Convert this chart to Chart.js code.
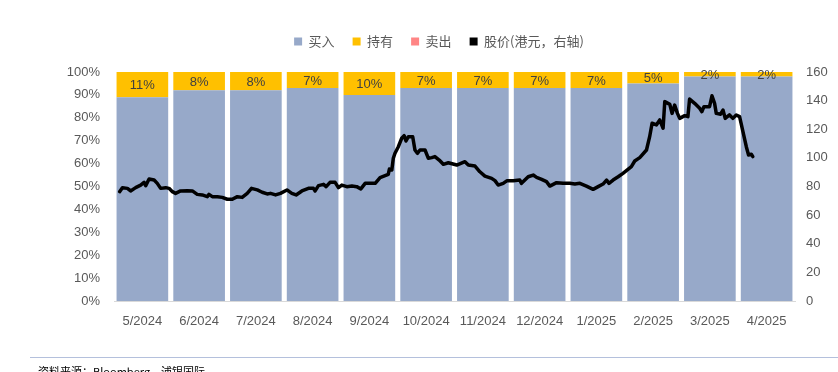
<!DOCTYPE html>
<html>
<head>
<meta charset="utf-8">
<script src="https://cdn.jsdelivr.net/npm/chart.js@4"></script>
<style>
  html, body { margin: 0; padding: 0; background: #fff; }
  #wrap { width: 838px; height: 372px; position: relative; }
</style>
</head>
<body>
<div id="wrap"><canvas id="chart"></canvas></div>
<script>
// monthly rating mix (%)
const months = ["5/2024", "6/2024", "7/2024", "8/2024", "9/2024", "10/2024", "11/2024", "12/2024", "1/2025", "2/2025", "3/2025", "4/2025"];
const buyPct  = [89, 92, 92, 93, 90, 93, 93, 93, 93, 95, 98, 98];
const holdPct = [11, 8, 8, 7, 10, 7, 7, 7, 7, 5, 2, 2];
const sellPct = [0, 0, 0, 0, 0, 0, 0, 0, 0, 0, 0, 0];

// share price (HKD), days since 2024-05-01
const priceDay = [3, 4.5, 7.2, 8.9, 11.6, 14.3, 16.1, 17, 18.8, 21.5, 23.2, 25, 27.7, 29.5, 31.3, 33, 35.7, 39.3, 42, 44.6,
  47.3, 50, 50.9, 52.7, 55.4, 58, 60.7, 63.4, 66.1, 68.7, 71.4, 73.7, 76.8, 79.4, 82.1, 83.9, 86.6, 89.2, 92.7, 95.3,
  97.6, 100.7, 104.2, 106.9, 107.8, 109.6, 112.3, 113.7, 115.8, 118.5, 120.3, 122.1, 124.8, 127.5, 130.1, 132.3, 134.6, 137.3, 140, 142.6,
  145.3, 147, 147.6, 148.9, 149.7, 150.6, 152.4, 154.2, 155.5, 156.5, 157.8, 160.1, 161.3, 162.6, 164, 166.7, 168.5, 170.3, 172, 174.3,
  176.5, 179.2, 183.7, 188.1, 189.9, 193.5, 196.1, 198.8, 202.4, 204.2, 205.9, 208.6, 210.7, 214, 217.5, 218.4, 222, 224.7, 226.5, 229.2,
  231.8, 233.6, 237.2, 240.7, 244.3, 247, 249.7, 253.2, 256.8, 259.5, 262.1, 264, 265.3, 267.5, 270.2, 272.8, 277.3, 279.1, 281.8, 285.4,
  287.1, 288.4, 290.7, 292.5, 294.3, 295.2, 297.9, 299.1, 300.5, 302, 303.2, 305.9, 307.6, 308.5, 311.2, 313.9, 315.1, 316.2, 319.2, 320.5,
  321.9, 322.8, 325.1, 326.4, 327.6, 329.9, 331.7, 333.5, 335.3, 337.1, 338.9, 340.1, 341.6, 342.4];
const price = [76.4, 79.2, 78.7, 76.9, 79.2, 81, 82.9, 80.6, 85.2, 84.5, 82.2, 78.7, 79.2, 78.7, 76.4, 75.2, 76.9, 77.1, 76.9, 74.5,
  74.1, 72.9, 74.5, 72.9, 72.9, 72.4, 71.1, 71.1, 72.9, 72.4, 75.2, 78.7, 77.6, 76, 74.8, 75.2, 74.1, 75.2, 77.6, 75.2,
  74.1, 76.9, 78.7, 78.7, 76.9, 80.6, 81.5, 79.9, 82.9, 82.9, 79.2, 81, 79.9, 80.3, 79.9, 78.3, 82.2, 82.2, 82.2, 86.2,
  87.6, 88.5, 92.2, 91.5, 99.7, 103.2, 107.8, 113.7, 115.5, 111.8, 114.8, 114.8, 105.5, 103.2, 105.5, 105.5, 99.7, 100.2, 100.9, 98.5,
  95.5, 96.6, 95, 97.3, 95, 94.3, 90.3, 87.3, 85.7, 84.1, 81, 82.2, 84.1, 84.1, 84.5, 82.2, 86.8, 88, 86.4, 85,
  83.4, 80.3, 82.7, 82.2, 82.2, 81.7, 82.2, 80.3, 78, 79.9, 81.7, 84.5, 82.2, 84.5, 86.8, 89.2, 93.9, 97.8, 100.2, 105.5,
  114.8, 124.2, 123, 126.5, 120.7, 139.3, 137.4, 131.1, 136.9, 131.1, 127.6, 129.5, 128.8, 141.1, 138.1, 134.6, 132.3, 135.8, 135.8, 143.4,
  138.1, 131.1, 130.5, 133.4, 127.6, 130, 127.6, 130, 128.8, 118.3, 107.8, 102, 102.5, 100.9];

const tickFont = { family: "'Liberation Sans Narrow', 'Liberation Sans', sans-serif", size: 13 };
const cjkFont = "'Noto Sans CJK SC', sans-serif";

// percentage labels inside the 持有 segment
const holdLabels = {
  id: 'holdLabels',
  afterDatasetsDraw(chart) {
    const meta = chart.getDatasetMeta(1);
    const ctx = chart.ctx;
    ctx.save();
    ctx.font = "13px 'Liberation Sans Narrow', 'Liberation Sans', sans-serif";
    ctx.fillStyle = '#404040';
    ctx.textAlign = 'center';
    ctx.textBaseline = 'middle';
    meta.data.forEach((bar, i) => {
      if (!holdPct[i]) return;
      ctx.fillText(holdPct[i] + '%', bar.x, (bar.y + bar.base) / 2 + 1);
    });
    ctx.restore();
  }
};

// extra room between legend and plot
const legendGap = {
  id: 'legendGap',
  beforeInit(chart) {
    const fit = chart.legend.fit;
    chart.legend.fit = function () {
      fit.call(this);
      this.height += 14;
    };
  }
};

// source note + rule at the bottom
const footer = {
  id: 'footer',
  afterDraw(chart) {
    const ctx = chart.ctx;
    ctx.save();
    ctx.strokeStyle = '#b4c0dc';
    ctx.lineWidth = 1;
    ctx.beginPath();
    ctx.moveTo(30, 357.5);
    ctx.lineTo(838, 357.5);
    ctx.stroke();
    ctx.font = "11px " + cjkFont;
    ctx.fillStyle = '#000';
    ctx.textBaseline = 'top';
    ctx.fillText('资料来源：Bloomberg，浦银国际', 38, 366);
    ctx.restore();
  }
};

new Chart(document.getElementById('chart'), {
  data: {
    labels: months,
    datasets: [
      { type: 'bar', label: '买入', data: buyPct, backgroundColor: '#97a9c9', stack: 'rating', grouped: false, order: 1 },
      { type: 'bar', label: '持有', data: holdPct, backgroundColor: '#ffc000', stack: 'rating', grouped: false, order: 1 },
      { type: 'bar', label: '卖出', data: sellPct, backgroundColor: '#ff8585', stack: 'rating', grouped: false, order: 1 },
      {
        type: 'line', label: '股价(港元，右轴)',
        data: priceDay.map((d, i) => ({ x: d, y: price[i] })),
        borderColor: '#000', backgroundColor: '#000', borderWidth: 3.5,
        pointRadius: 0, tension: 0, borderJoinStyle: 'round', borderCapStyle: 'round',
        yAxisID: 'y2', xAxisID: 'xd', order: 0
      }
    ]
  },
  options: {
    responsive: true,
    maintainAspectRatio: false,
    animation: false,
    layout: { padding: { top: 17, left: 40, right: 0, bottom: 0 } },
    datasets: { bar: { categoryPercentage: 1, barPercentage: 0.91 } },
    plugins: {
      legend: {
        position: 'top',
        labels: {
          boxWidth: 8, boxHeight: 8, padding: 18,
          color: '#595959',
          font: { family: cjkFont, size: 13 },
          sort: (a, b) => a.datasetIndex - b.datasetIndex,
          generateLabels(chart) {
            return Chart.defaults.plugins.legend.labels.generateLabels(chart).map(l => Object.assign(l, { lineWidth: 0 }));
          }
        }
      },
      tooltip: { enabled: false }
    },
    scales: {
      x: {
        type: 'category', stacked: true,
        grid: { display: false },
        border: { color: '#d9d9d9' },
        ticks: { color: '#595959', font: tickFont, padding: 5, maxRotation: 0 },
        afterFit(s) { s.height = 71; }
      },
      xd: { type: 'linear', min: 0, max: 365, display: false },
      y: {
        stacked: true, min: 0, max: 100,
        grid: { display: false },
        border: { display: false },
        ticks: { stepSize: 10, color: '#595959', font: tickFont, padding: 6, callback: v => v + '%' },
        afterFit(s) { s.width = 74; }
      },
      y2: {
        position: 'right', min: 0, max: 160,
        grid: { display: false },
        border: { display: false },
        ticks: { stepSize: 20, color: '#595959', font: tickFont, padding: 3 },
        afterFit(s) { s.width = 43; }
      }
    }
  },
  plugins: [holdLabels, legendGap, footer]
});
</script>
</body>
</html>
